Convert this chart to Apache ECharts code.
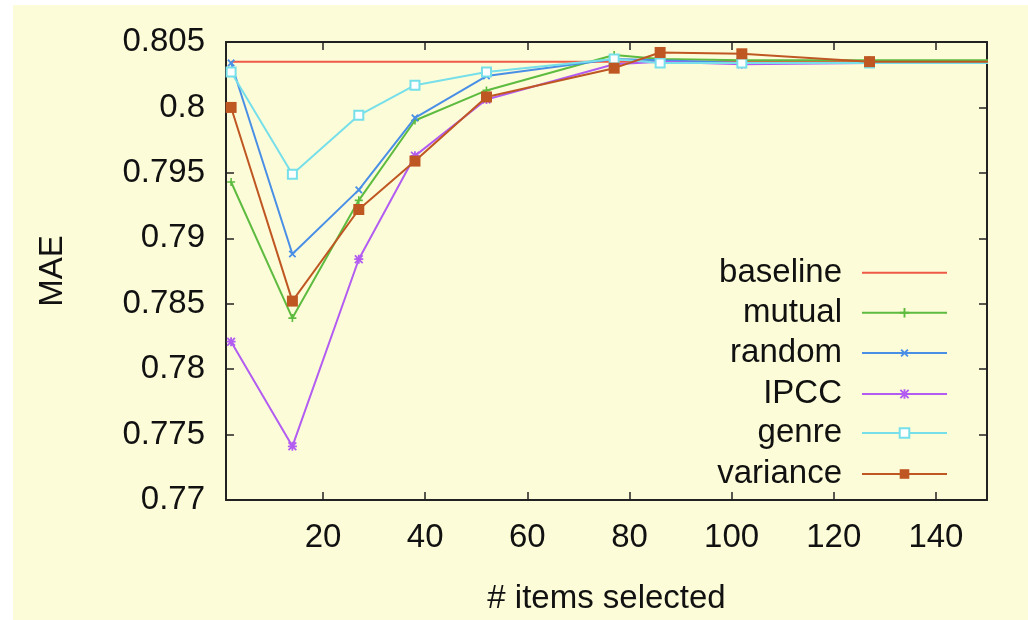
<!DOCTYPE html>
<html>
<head>
<meta charset="utf-8">
<script src="https://cdn.jsdelivr.net/npm/echarts@6/dist/echarts.min.js"></script>
<style>
    html, body { margin: 0; padding: 0; background: #ffffff; }
    #paper { position: absolute; left: 13px; top: 5px; right: 0; bottom: 0; background: #fdfcd8; }
    #chart { position: absolute; left: 0; top: 0; width: 1028px; height: 620px; }
</style>
</head>
<body>
<div id="paper"></div>
<div id="chart"></div>
<script>
// x positions (# items selected); last point lies past the axis end
const itemsSelected = [2, 14, 27, 38, 52, 77, 86, 102, 127, 177];

const baselineMae = [0.8035, 0.8035, 0.8035, 0.8035, 0.8035, 0.8035, 0.8035, 0.8035, 0.8035, 0.8035];
const mutualMae   = [0.7943, 0.7839, 0.7929, 0.7990, 0.8013, 0.8040, 0.8037, 0.8036, 0.8036, 0.8036];
const randomMae   = [0.8034, 0.7888, 0.7937, 0.7992, 0.8024, 0.8037, 0.8036, 0.8034, 0.8034, 0.8034];
const ipccMae     = [0.7821, 0.7741, 0.7884, 0.7963, 0.8006, 0.8033, 0.8035, 0.8033, 0.8034, 0.8034];
const genreMae    = [0.8027, 0.7949, 0.7994, 0.8017, 0.8027, 0.8037, 0.8034, 0.8034, 0.8034, 0.8034];
const varianceMae = [0.8000, 0.7852, 0.7922, 0.7959, 0.8008, 0.8030, 0.8042, 0.8041, 0.8035, 0.8035];

const seriesNames = ['baseline', 'mutual', 'random', 'IPCC', 'genre', 'variance'];
const xTicks = [20, 40, 60, 80, 100, 120, 140];

const PLUS = 'path://M4,0 H6 V4 H10 V6 H6 V10 H4 V6 H0 V4 H4 Z';
const STAR = 'path://M4,0 H6 V4 H10 V6 H6 V10 H4 V6 H0 V4 H4 Z M0,1.4 L1.4,0 L10,8.6 L8.6,10 Z M8.6,0 L10,1.4 L1.4,10 L0,8.6 Z';

const chart = echarts.init(document.getElementById('chart'), null, { renderer: 'canvas' });

const FONT = 'Liberation Sans, Arial, sans-serif';
const FS = 33;
const ink = '#111';
const frame = '#222';

function pairs(values) {
    return itemsSelected.map((x, i) => [x, values[i]]);
}

function lineSeries(name, values, color, symbol, size, extra) {
    return Object.assign({
        name: name,
        type: 'line',
        data: pairs(values),
        symbol: symbol,
        symbolSize: size,
        clip: true,
        lineStyle: { color: color, width: 2 },
        itemStyle: { color: color },
        emphasis: { disabled: true },
        z: 3
    }, extra || {});
}

// one legend per row so the icons line up on the right
const legendCenters = [272.7, 312.7, 353, 394, 433, 474];
const legends = seriesNames.map((name, i) => ({
    data: [name],
    orient: 'vertical',
    right: 80,
    top: legendCenters[i] - 18,
    padding: 0,
    align: 'right',
    itemWidth: 85,
    itemHeight: 12,
    selectedMode: false,
    itemStyle: i === 0 ? { opacity: 0 } : {},
    lineStyle: { width: 2 },
    textStyle: {
        fontSize: FS,
        lineHeight: 36,
        fontFamily: FONT,
        color: ink,
        padding: [0, 15, 0, 0]
    }
}));

const tickStyle = { show: true, inside: true, length: 8, lineStyle: { color: frame, width: 1.5 } };
const axisLineStyle = { show: true, lineStyle: { color: frame, width: 2 } };

const option = {
    backgroundColor: 'transparent',
    animation: false,
    grid: { left: 226, top: 42, right: 41, bottom: 117, containLabel: false },
    legend: legends,
    xAxis: [
        {
            type: 'value',
            min: 1,
            max: 150,
            position: 'bottom',
            name: '# items selected',
            nameLocation: 'middle',
            nameGap: 82,
            nameTextStyle: { fontSize: FS, fontFamily: FONT, color: ink },
            axisLine: axisLineStyle,
            axisTick: Object.assign({ customValues: xTicks }, tickStyle),
            axisLabel: { customValues: xTicks, fontSize: FS, fontFamily: FONT, color: ink, margin: 21 },
            splitLine: { show: false }
        },
        {
            type: 'value',
            min: 1,
            max: 150,
            position: 'top',
            axisLine: axisLineStyle,
            axisTick: Object.assign({ customValues: xTicks }, tickStyle),
            axisLabel: { show: false },
            splitLine: { show: false }
        }
    ],
    yAxis: [
        {
            type: 'value',
            min: 0.77,
            max: 0.805,
            interval: 0.005,
            position: 'left',
            name: 'MAE',
            nameLocation: 'middle',
            nameGap: 157,
            nameRotate: 90,
            nameTextStyle: { fontSize: FS, fontFamily: FONT, color: ink },
            axisLine: axisLineStyle,
            axisTick: tickStyle,
            axisLabel: { fontSize: FS, fontFamily: FONT, color: ink, margin: 21 },
            splitLine: { show: false }
        },
        {
            type: 'value',
            min: 0.77,
            max: 0.805,
            interval: 0.005,
            position: 'right',
            axisLine: axisLineStyle,
            axisTick: tickStyle,
            axisLabel: { show: false },
            splitLine: { show: false }
        }
    ],
    series: [
        lineSeries('baseline', baselineMae, '#ee5a45', 'none', 0, { z: 2 }),
        lineSeries('mutual', mutualMae, '#5dbb3f', PLUS, 8),
        lineSeries('random', randomMae, '#4a8fe6', PLUS, 9, { symbolRotate: 45 }),
        lineSeries('IPCC', ipccMae, '#b25cf2', STAR, 9),
        lineSeries('genre', genreMae, '#76dfea', 'emptyRect', 9, { itemStyle: { color: '#76dfea', borderWidth: 1.5 } }),
        lineSeries('variance', varianceMae, '#bf5723', 'rect', 11)
    ]
};

chart.setOption(option);
</script>
</body>
</html>
